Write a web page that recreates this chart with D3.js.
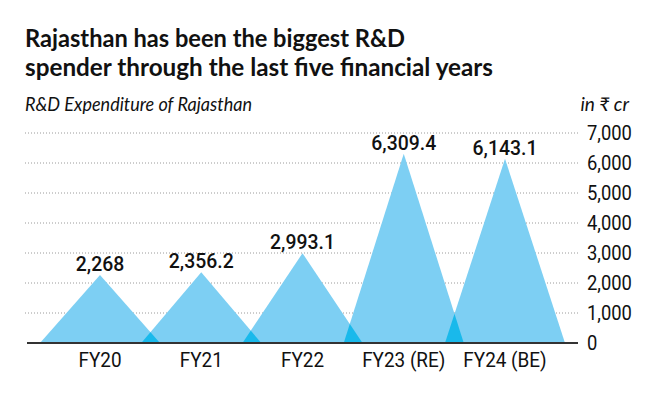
<!DOCTYPE html>
<html>
<head>
<meta charset="utf-8">
<script src="https://cdn.jsdelivr.net/npm/d3@7"></script>
<style>
  body { margin: 0; background: #fff; }
  svg { display: block; }
  text { font-family: Roboto, sans-serif; fill: #111; }
</style>
</head>
<body>
<div id="chart"></div>
<script>
var categories = ['FY20', 'FY21', 'FY22', 'FY23 (RE)', 'FY24 (BE)'];
var values = [2268, 2356.2, 2993.1, 6309.4, 6143.1];
var yTicks = [0, 1000, 2000, 3000, 4000, 5000, 6000, 7000];

var width = 660, height = 396;
var halfBase = 60;

var svg = d3.select('#chart').append('svg')
  .attr('width', width)
  .attr('height', height);

svg.append('rect')
  .attr('width', width)
  .attr('height', height)
  .attr('fill', '#fff');

var x = d3.scalePoint()
  .domain(categories)
  .range([100, 505]);

var y = d3.scaleLinear()
  .domain([0, 7000])
  .range([343, 133]);

// squeeze text a bit so it looks like the condensed face of the original
function condense(sel, k) {
  sel.each(function () {
    var w = this.getComputedTextLength();
    d3.select(this)
      .attr('textLength', w * k)
      .attr('lengthAdjust', 'spacingAndGlyphs');
  });
}

// titles
svg.append('text')
  .attr('x', 25)
  .attr('y', 47)
  .attr('font-size', 25)
  .attr('font-weight', 700)
  .attr('textLength', 380)
  .attr('lengthAdjust', 'spacingAndGlyphs')
  .style('font-family', 'Lato, sans-serif')
  .text('Rajasthan has been the biggest R&D');

svg.append('text')
  .attr('x', 25)
  .attr('y', 76)
  .attr('font-size', 25)
  .attr('font-weight', 700)
  .attr('textLength', 468)
  .attr('lengthAdjust', 'spacingAndGlyphs')
  .style('font-family', 'Lato, sans-serif')
  .text('spender through the last five financial years');

svg.append('text')
  .attr('x', 25)
  .attr('y', 111)
  .attr('font-size', 19)
  .attr('font-style', 'italic')
  .attr('textLength', 227)
  .attr('lengthAdjust', 'spacingAndGlyphs')
  .style('font-family', 'Lato, sans-serif')
  .text('R&D Expenditure of Rajasthan');

svg.append('text')
  .attr('x', 629)
  .attr('y', 111)
  .attr('text-anchor', 'end')
  .attr('font-size', 19)
  .attr('font-style', 'italic')
  .style('font-family', 'Lato, sans-serif')
  .text('in ₹ cr');

// gridlines
svg.append('g')
  .selectAll('line')
  .data(yTicks.filter(function (d) { return d > 0; }))
  .enter()
  .append('line')
  .attr('x1', 25)
  .attr('x2', 578)
  .attr('y1', function (d) { return y(d); })
  .attr('y2', function (d) { return y(d); })
  .attr('stroke', '#9a9a9a')
  .attr('stroke-width', 1)
  .attr('stroke-dasharray', '1,2');

function triangle(d, i) {
  var cx = x(categories[i]);
  return 'M' + (cx - halfBase) + ',' + y(0) +
    'L' + cx + ',' + y(d) +
    'L' + (cx + halfBase) + ',' + y(0) + 'Z';
}

var defs = svg.append('defs');
defs.selectAll('clipPath')
  .data(values)
  .enter()
  .append('clipPath')
  .attr('id', function (d, i) { return 'tri' + i; })
  .append('path')
  .attr('d', triangle);

svg.append('g')
  .selectAll('path')
  .data(values)
  .enter()
  .append('path')
  .attr('d', triangle)
  .attr('fill', '#7dcff3');

// overlap between neighbours
svg.append('g')
  .selectAll('path')
  .data(values.slice(1))
  .enter()
  .append('path')
  .attr('d', function (d, i) { return triangle(values[i], i); })
  .attr('clip-path', function (d, i) { return 'url(#tri' + (i + 1) + ')'; })
  .attr('fill', '#19b9eb');

// value labels
svg.append('g')
  .selectAll('text')
  .data(values)
  .enter()
  .append('text')
  .attr('x', function (d, i) { return x(categories[i]); })
  .attr('y', function (d) { return y(d) - 4; })
  .attr('text-anchor', 'middle')
  .attr('font-size', 20)
  .attr('font-weight', 500)
  .text(function (d) { return d3.format(',')(d); })
  .call(condense, 0.97);

// baseline
svg.append('line')
  .attr('x1', 27)
  .attr('x2', 578)
  .attr('y1', y(0))
  .attr('y2', y(0))
  .attr('stroke', '#333')
  .attr('stroke-width', 2);

// category labels
svg.append('g')
  .selectAll('text')
  .data(categories)
  .enter()
  .append('text')
  .attr('x', function (d) { return x(d); })
  .attr('y', 367)
  .attr('text-anchor', 'middle')
  .attr('font-size', 21)
  .text(function (d) { return d; })
  .call(condense, 0.9);

// right axis
var yAxis = d3.axisRight(y)
  .tickValues(yTicks)
  .tickFormat(d3.format(','))
  .tickSize(0)
  .tickPadding(0);

var axisG = svg.append('g')
  .attr('transform', 'translate(587,0)')
  .call(yAxis);
axisG.select('.domain').remove();
axisG.selectAll('text')
  .attr('font-size', 21)
  .attr('fill', '#111')
  .style('font-family', 'Roboto, sans-serif')
  .call(condense, 0.875);
</script>
</body>
</html>
